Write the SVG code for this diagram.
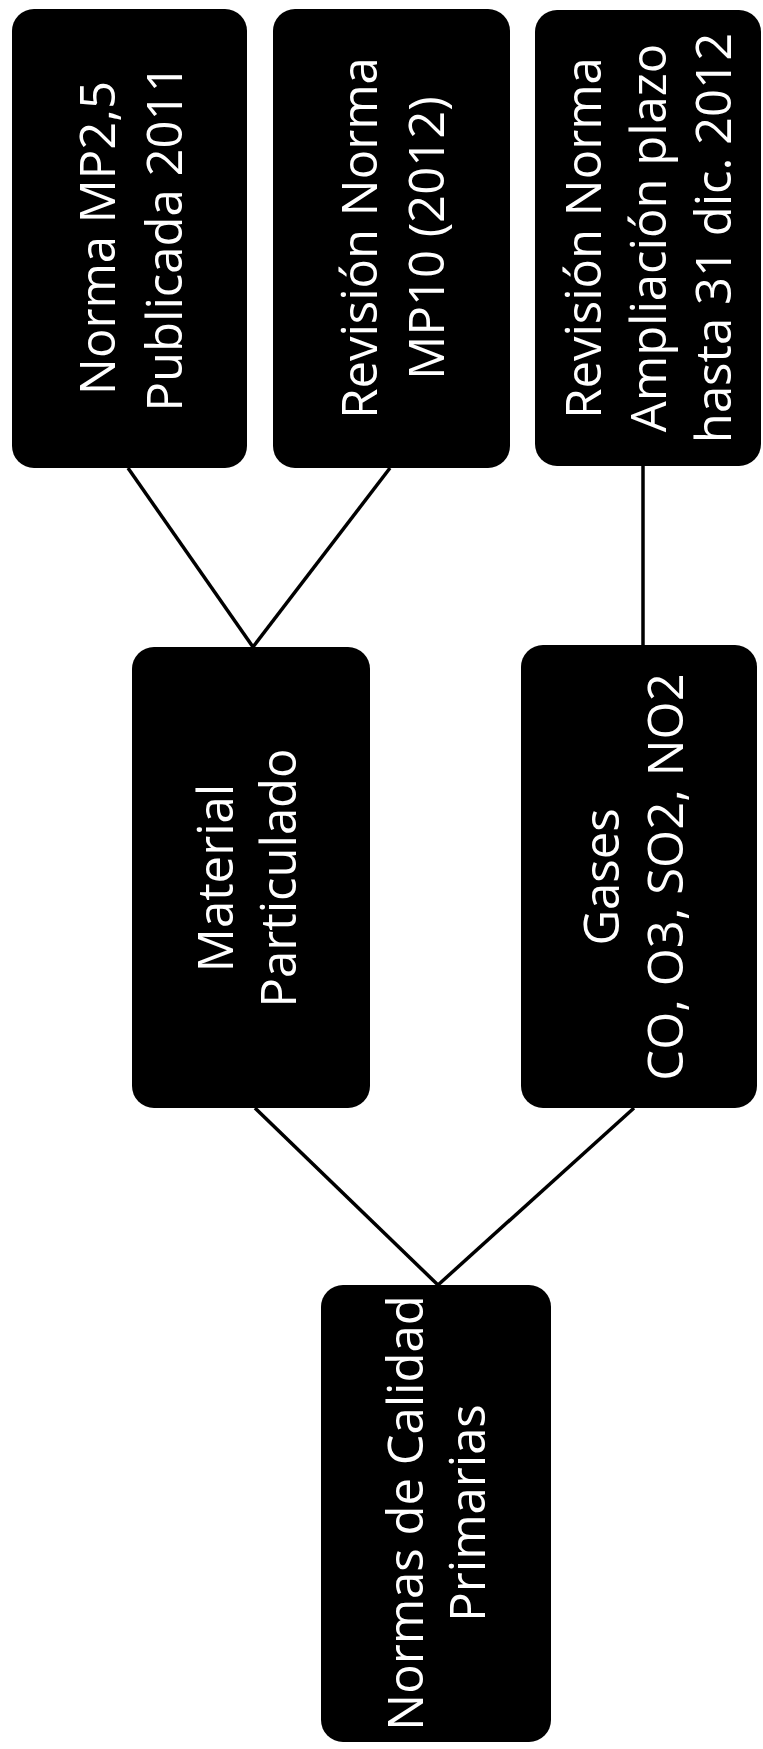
<svg xmlns="http://www.w3.org/2000/svg" width="763" height="1749" viewBox="0 0 763 1749">
<style>
.box{fill:#000;}
.lbl{font-family:"Open Sans","Noto Sans","DejaVu Sans",sans-serif;font-size:49px;fill:#fff;text-anchor:middle;}
.conn{stroke:#000;stroke-width:3.5;fill:none;}
</style>
<rect x="0" y="0" width="763" height="1749" fill="#fff"/>
<g id="connectors">
<line class="conn" x1="128" y1="468" x2="253" y2="647"/>
<line class="conn" x1="390" y1="468" x2="253" y2="647"/>
<line class="conn" x1="643" y1="466" x2="643" y2="646"/>
<line class="conn" x1="255" y1="1108" x2="438" y2="1285"/>
<line class="conn" x1="634" y1="1108" x2="438" y2="1285"/>
</g>
<g id="n-mp25">
<rect class="box" x="12" y="9" width="235" height="459" rx="22"/>
<g transform="translate(129,238) rotate(-90)"><text class="lbl"><tspan x="0" y="-14">Norma MP2,5</tspan><tspan x="0" y="53">Publicada 2011</tspan></text></g>
</g>
<g id="n-mp10">
<rect class="box" x="273" y="9" width="237" height="459" rx="22"/>
<g transform="translate(391,238) rotate(-90)"><text class="lbl"><tspan x="0" y="-14">Revisión Norma</tspan><tspan x="0" y="53">MP10 (2012)</tspan></text></g>
</g>
<g id="n-gases-rev">
<rect class="box" x="535" y="10" width="226" height="456" rx="22"/>
<g transform="translate(648,238) rotate(-90)"><text class="lbl"><tspan x="0" y="-47">Revisión Norma</tspan><tspan x="0" y="18">Ampliación plazo</tspan><tspan x="0" y="83">hasta 31 dic. 2012</tspan></text></g>
</g>
<g id="n-material">
<rect class="box" x="132" y="647" width="238" height="461" rx="22"/>
<g transform="translate(251,878) rotate(-90)"><text class="lbl"><tspan x="0" y="-18">Material</tspan><tspan x="0" y="45">Particulado</tspan></text></g>
</g>
<g id="n-gases">
<rect class="box" x="521" y="645" width="236" height="463" rx="22"/>
<g transform="translate(639,877) rotate(-90)"><text class="lbl"><tspan x="0" y="-20">Gases</tspan><tspan x="0" y="44">CO, O3, SO2, NO2</tspan></text></g>
</g>
<g id="n-normas">
<rect class="box" x="321" y="1285" width="230" height="457" rx="22"/>
<g transform="translate(436,1513) rotate(-90)"><text class="lbl"><tspan x="0" y="-13">Normas de Calidad</tspan><tspan x="0" y="49">Primarias</tspan></text></g>
</g>
</svg>
